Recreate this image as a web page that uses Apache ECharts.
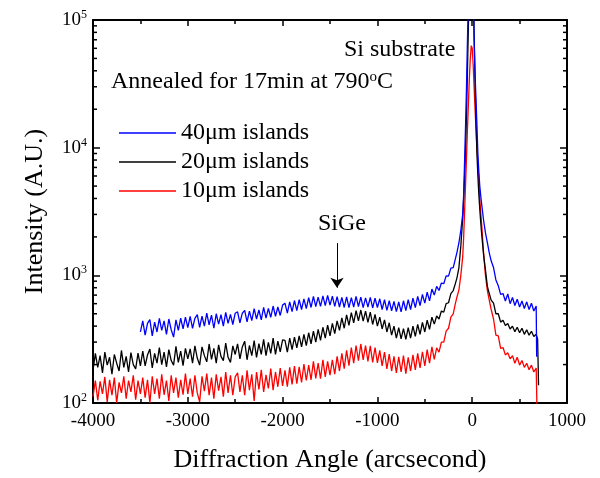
<!DOCTYPE html>
<html><head><meta charset="utf-8">
<script src="https://cdn.jsdelivr.net/npm/echarts@6/dist/echarts.min.js"></script>
<style>html,body{margin:0;padding:0;background:#fff}#c{width:600px;height:478px}</style>
</head><body><div id="c"></div>
<script>
// ---- data (arcsecond, intensity) ----
const angles = [
-4000,-3975,-3950,-3925,-3900,-3875,-3850,-3825,-3800,-3775,-3750,-3725,-3700,-3675,-3650,-3625,-3600,-3575,-3550,-3525,-3500,
-3475,-3450,-3425,-3400,-3375,-3350,-3325,-3300,-3275,-3250,-3225,-3200,-3175,-3150,-3125,-3100,-3075,-3050,-3025,-3000,
-2975,-2950,-2925,-2900,-2875,-2850,-2825,-2800,-2775,-2750,-2725,-2700,-2675,-2650,-2625,-2600,-2575,-2550,-2525,-2500,
-2475,-2450,-2425,-2400,-2375,-2350,-2325,-2300,-2275,-2250,-2225,-2200,-2175,-2150,-2125,-2100,-2075,-2050,-2025,-2000,
-1975,-1950,-1925,-1900,-1875,-1850,-1825,-1800,-1775,-1750,-1725,-1700,-1675,-1650,-1625,-1600,-1575,-1550,-1525,-1500,
-1475,-1450,-1425,-1400,-1375,-1350,-1325,-1300,-1275,-1250,-1225,-1200,-1175,-1150,-1125,-1100,-1075,-1050,-1025,-1000,
-975,-950,-925,-900,-875,-850,-825,-800,-775,-750,-725,-700,-675,-650,-625,-600,-575,-550,-525,-500,-475,-450,-425,-400,
-375,-350,-325,-300,-275,-250,-225,-200,
-180,-160,-140,-120,
-100,-90,-80,-70,-60,-50,-40,-30,-20,-10,0,10,20,30,40,50,60,70,80,90,100,
120,140,160,180,200,
225,250,275,300,325,350,375,400,425,450,475,500,525,550,575,600,625,650,675,
680,690,700
];
const islands40 = [
null,null,null,null,null,null,null,null,null,null,null,null,null,null,null,null,null,null,null,null,360,
440,340,420,450,335,430,360,460,370,440,345,455,375,328,448,370,462,380,470,390,
478,385,460,492,392,480,400,505,410,488,385,500,415,492,400,512,420,495,412,505,
518,425,505,532,432,525,442,548,455,535,448,560,462,550,468,575,478,565,485,585,
605,505,620,520,635,530,645,540,655,548,670,560,685,568,675,572,690,580,695,585,
688,572,680,565,672,560,678,558,670,565,685,570,675,558,665,565,672,555,662,560,
655,540,645,532,632,528,625,520,618,518,632,530,645,540,662,558,685,580,708,605,738,630,780,700,
820,760,870,860,990,985,1140,1150,
1320,1520,1800,2250,
3000,4300,8000,15000,30000,70000,150000,300000,500000,600000,500000,200000,70000,38000,24000,15000,9000,6500,5000,4200,3600,
2700,2150,1800,1500,1300,
1150,920,830,710,720,630,715,600,670,580,650,565,630,550,620,540,605,525,575,
230,null,null
];
const islands20 = [
180,245,190,235,172,250,198,228,168,240,205,178,258,190,232,175,248,200,185,246,195,
255,195,238,265,188,245,205,272,200,250,192,262,215,198,278,208,255,196,268,222,
265,205,280,225,198,275,235,210,290,220,268,205,285,232,215,295,228,208,280,240,
290,222,275,305,218,282,235,308,228,292,240,315,235,298,245,322,240,305,252,312,
310,250,322,262,328,270,335,275,345,282,355,290,365,300,378,310,392,322,408,335,
420,350,440,370,465,385,490,405,510,425,530,440,535,438,525,428,515,412,495,400,
470,380,448,360,425,340,400,322,390,318,382,315,390,322,400,332,412,345,428,360,445,378,470,415,
480,455,525,515,600,610,720,760,
850,960,1150,1700,
2800,4000,6000,10000,18000,40000,90000,200000,400000,600000,600000,300000,80000,35000,16000,9000,6000,4300,3300,2600,2100,
1450,1100,820,720,640,
605,500,500,430,445,405,420,380,400,362,392,355,385,345,375,340,365,332,345,
340,318,138
];
const islands10 = [
112,150,105,148,118,160,102,152,115,158,100,145,120,162,108,150,122,165,106,150,118,
158,110,152,100,162,118,155,108,168,116,150,104,165,120,158,110,152,116,170,118,
155,112,165,120,102,162,124,170,115,158,108,168,125,160,112,175,120,165,115,160,
172,122,165,115,180,126,168,104,175,128,182,122,166,130,186,126,175,134,188,136,
180,134,190,140,195,142,192,145,202,150,198,152,212,156,205,155,218,160,212,165,
218,168,232,178,245,186,258,196,272,205,282,215,290,218,282,212,280,208,272,206,
258,195,250,185,242,178,232,172,230,175,235,170,228,178,238,182,245,188,252,195,262,205,275,220,
270,250,300,300,365,385,470,500,
590,680,770,1000,
1400,2000,3200,5200,8500,14000,22000,35000,50000,63000,60000,45000,30000,20000,14000,10000,7500,5500,4000,3100,2500,
1500,1000,760,640,540,
455,340,335,268,272,238,248,222,235,205,228,198,215,190,205,182,198,175,188,
185,50,null
];
const seriesNames = ['40μm islands','20μm islands','10μm islands'];
const xMin = -4000, xMax = 1000, xInterval = 1000;
const yMin = 100, yMax = 100000;
const minorTickValues = [200,300,400,500,600,700,800,900,2000,3000,4000,5000,6000,7000,8000,9000,20000,30000,40000,50000,60000,70000,80000,90000];
const arrowFrom = [-1426, 1790], arrowTo = [-1426, 800];

const F = 'Liberation Serif';
const toData = vals => angles.map((a,i) => [a, vals[i] == null ? '-' : vals[i]]);

const chart = echarts.init(document.getElementById('c'), null, {renderer:'canvas'});
const axisLine = {show:true, onZero:false, lineStyle:{color:'#000', width:2}};
const xBase = {type:'value', min:xMin, max:xMax, interval:xInterval,
  axisLine, splitLine:{show:false},
  axisTick:{show:true, inside:true, length:6, lineStyle:{width:1.5,color:'#000'}},
  minorTick:{show:true, splitNumber:2, length:4, lineStyle:{width:1.5,color:'#000'}}};
const yBase = {type:'log', logBase:10, min:yMin, max:yMax,
  axisLine, splitLine:{show:false}, minorSplitLine:{show:false},
  axisTick:{show:true, inside:true, length:7, lineStyle:{width:1.5,color:'#000'}}};
const LW = 1.3;

chart.setOption({
  animation:false,
  backgroundColor:'#fff',
  grid:{left:93, right:33, top:20, bottom:75, containLabel:false},
  xAxis:[
    Object.assign({}, xBase, {position:'bottom',
      name:'Diffraction Angle (arcsecond)', nameLocation:'middle', nameGap:44,
      nameTextStyle:{fontFamily:F, fontSize:26, color:'#000'},
      axisLabel:{fontFamily:F, fontSize:19, color:'#000', margin:9, formatter: v => String(v)}}),
    Object.assign({}, xBase, {position:'top', axisLabel:{show:false}})
  ],
  yAxis:[
    Object.assign({}, yBase, {position:'left',
      name:'Intensity (A.U.)', nameLocation:'middle', nameGap:45,
      nameTextStyle:{fontFamily:F, fontSize:26, color:'#000'},
      axisLabel:{margin:6, formatter: v => '{b|10}{e|' + Math.round(Math.log10(v)) + '}',
        rich:{b:{fontFamily:F, fontSize:19, color:'#000', lineHeight:22},
              e:{fontFamily:F, fontSize:12, color:'#000', verticalAlign:'top', lineHeight:12}}}}),
    Object.assign({}, yBase, {position:'right', axisLabel:{show:false}})
  ],
  legend:{data:seriesNames, orient:'vertical', left:119, top:121, padding:0,
    itemWidth:57, itemHeight:1.5, itemGap:5, icon:'rect',
    textStyle:{fontFamily:F, fontSize:24, color:'#000', lineHeight:24},
    selectedMode:false},
  series:[
    {name:seriesNames[2], type:'line', data:toData(islands10), showSymbol:false, symbol:'none',
     lineStyle:{color:'#ff0000', width:LW}, itemStyle:{color:'#ff0000'}, clip:true, silent:true},
    {name:seriesNames[1], type:'line', data:toData(islands20), showSymbol:false, symbol:'none',
     lineStyle:{color:'#000000', width:LW}, itemStyle:{color:'#000000'}, clip:true, silent:true,
     markLine:{silent:true, symbol:['none','arrow'], symbolSize:10,
       lineStyle:{color:'#000', width:1, type:'solid'}, itemStyle:{color:'#000'}, label:{show:false},
       data:[[{coord:arrowFrom},{coord:arrowTo}]]}},
    {name:seriesNames[0], type:'line', data:toData(islands40), showSymbol:false, symbol:'none',
     lineStyle:{color:'#0000ff', width:LW}, itemStyle:{color:'#0000ff'}, clip:true, silent:true},
    {type:'custom', silent:true, clip:false, z:5,
     data:minorTickValues.map(v => [xMin, v]), encode:{x:0, y:1},
     renderItem(params, api){
       const v = api.value(1);
       const l = api.coord([xMin, v]), r = api.coord([xMax, v]);
       const st = {stroke:'#000', lineWidth:1.5};
       return {type:'group', children:[
         {type:'line', shape:{x1:l[0], y1:l[1], x2:l[0]+4, y2:l[1]}, style:st},
         {type:'line', shape:{x1:r[0]-4, y1:r[1], x2:r[0], y2:r[1]}, style:st}
       ]};
     }}
  ],
  graphic:[
    {type:'text', style:{x:344, y:50, text:'Si substrate', font:'24px "Liberation Serif"', fill:'#000', textVerticalAlign:'middle'}},
    {type:'text', style:{x:111, y:82, text:'Annealed for 17min at 790{s|o}C', font:'24px "Liberation Serif"', fill:'#000', textVerticalAlign:'middle',
      rich:{s:{fontFamily:F, fontSize:15, fill:'#000', verticalAlign:'top', lineHeight:14}}}},
    {type:'text', style:{x:318, y:224, text:'SiGe', font:'24px "Liberation Serif"', fill:'#000', textVerticalAlign:'middle'}}
  ]
});
</script></body></html>
